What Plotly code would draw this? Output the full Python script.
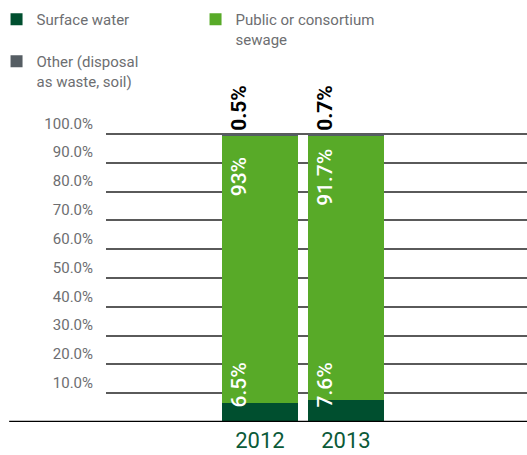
import plotly.graph_objects as go

# Datos
anios = ['2012', '2013']
agua_superficial = [6.5, 7.6]
alcantarillado = [93, 91.7]
otros = [0.5, 0.7]
ticks_y = [10, 20, 30, 40, 50, 60, 70, 80, 90, 100]
ticks_y_texto = ['10.0%', '20.0%', '30.0%', '40.0%', '50.0%',
                 '60.0%', '70.0%', '80.0%', '90.0%', '100.0%']

VERDE_OSCURO = '#004f2f'
VERDE = '#58aa28'
GRIS = '#555d63'
GRIS_TEXTO = '#6d6e71'
FUENTE = 'Roboto, Arial, sans-serif'

fig = go.Figure()
fig.add_trace(go.Bar(x=anios, y=agua_superficial, name='Surface water',
                     marker=dict(color=VERDE_OSCURO, line=dict(width=0))))
fig.add_trace(go.Bar(x=anios, y=alcantarillado, name='Public or consortium<br>sewage',
                     marker=dict(color=VERDE, line=dict(width=0))))
fig.add_trace(go.Bar(x=anios, y=otros, name='Other (disposal<br>as waste, soil)',
                     marker=dict(color=GRIS, line=dict(width=0))))

# Etiquetas verticales de cada segmento (x por indice de categoria)
for i, a in enumerate(anios):
    base_sup = agua_superficial[i]
    tope_alc = base_sup + alcantarillado[i]
    tope = tope_alc + otros[i]
    fig.add_annotation(x=i, y=0, text=f'{agua_superficial[i]:g}%', textangle=-90,
                       showarrow=False, xanchor='center', yanchor='bottom',
                       xshift=-21, yshift=13,
                       font=dict(family=FUENTE, size=21, color='white', weight=500))
    fig.add_annotation(x=i, y=tope_alc, text=f'{alcantarillado[i]:g}%', textangle=-90,
                       showarrow=False, xanchor='center', yanchor='middle',
                       xshift=-21, yshift=-41,
                       font=dict(family=FUENTE, size=21, color='white', weight=500))
    fig.add_annotation(x=i, y=tope, text=f'{otros[i]:g}%', textangle=-90,
                       showarrow=False, xanchor='center', yanchor='bottom',
                       xshift=-21, yshift=1,
                       font=dict(family=FUENTE, size=21, color='black', weight=700))

# Linea base
fig.add_shape(type='line', xref='paper', yref='y', x0=-0.23, x1=1, y0=0, y1=0,
              line=dict(color='black', width=2.5))

fig.update_layout(
    width=527, height=455,
    margin=dict(l=106, r=0, t=131, b=33, autoexpand=False),
    barmode='stack', bargap=0.116,
    plot_bgcolor='white', paper_bgcolor='white',
    font=dict(family=FUENTE, color=GRIS_TEXTO),
    showlegend=True,
    legend=dict(orientation='h', x=-0.26, y=1.44, xanchor='left', yanchor='top',
                entrywidth=154, valign='top', traceorder='normal',
                font=dict(family=FUENTE, size=15, color=GRIS_TEXTO),
                bgcolor='rgba(0,0,0,0)'),
)
fig.update_xaxes(type='category', range=[-1.79, 3.105], showgrid=False,
                 showline=False, zeroline=False, ticks='',
                 ticklabelstandoff=3,
                 tickfont=dict(family=FUENTE, size=22, color='#0b5a38'))
fig.update_yaxes(range=[0, 101], tickvals=ticks_y, ticktext=ticks_y_texto,
                 showgrid=True, gridcolor='#5a5a5a', gridwidth=1.5,
                 zeroline=False, showline=False, ticks='',
                 ticklabelposition='outside top', ticklabelstandoff=12,
                 tickfont=dict(family=FUENTE, size=15, color=GRIS_TEXTO))

# la pagina trae margen por defecto en el body
fig.write_html('out.html', config={'displayModeBar': False},
               post_script="document.body.style.margin='0';")
